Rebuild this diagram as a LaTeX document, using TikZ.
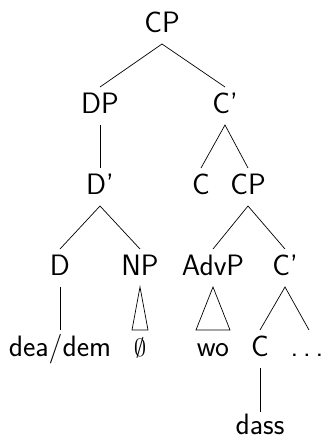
\documentclass[tikz,border=0pt]{standalone}
\begin{document}
\begin{tikzpicture}[x=1pt,y=-1pt,
  lbl/.style={anchor=base,inner sep=0pt,font=\fontsize{29.5}{35}\selectfont\sffamily},
  edge/.style={line width=0.7pt,line join=miter}]
\useasboundingbox (0,0) rectangle (324,439);
% nodes
\node[lbl] (cp)   at (162,32)  {CP};
\node[lbl] (dp)   at (100,113) {DP};
\node[lbl] (cb)   at (225,113) {C’};
\node[lbl] (db)   at (100,194) {D’};
\node[lbl] (c)    at (201,194) {C};
\node[lbl] (cp2)  at (248,194) {CP};
\node[lbl] (d)    at (60,275)  {D};
\node[lbl] (np)   at (140,275) {NP};
\node[lbl] (advp) at (213,275) {AdvP};
\node[lbl] (cb2)  at (285,275) {C’};
\node[lbl] (dea)  at (60,356)  {dea/dem};
\node[lbl] (empty) at (140,356) {$\emptyset$};
\node[lbl] (wo)   at (213,356) {wo};
\node[lbl] (c2)   at (260,356) {C};
\node[lbl] (dots) at (307,356) {.\kern0.16em.\kern0.16em.};
\node[lbl] (dass) at (260,434) {dass};
% edges
\draw[edge] ([yshift=26pt]dp.base) -- ([yshift=-12pt]cp.base) -- ([yshift=26pt]cb.base);
\draw[edge] ([yshift=-12pt]dp.base) -- ([yshift=26pt]db.base);
\draw[edge] ([yshift=26pt]c.base) -- ([yshift=-12pt]cb.base) -- ([yshift=26pt]cp2.base);
\draw[edge] ([yshift=26pt]d.base) -- ([yshift=-12pt]db.base) -- ([yshift=26pt]np.base);
\draw[edge] ([yshift=26pt]advp.base) -- ([yshift=-12pt]cp2.base) -- ([yshift=26pt]cb2.base);
\draw[edge] ([yshift=-12pt]d.base) -- ([yshift=26pt]dea.base);
\draw[edge] ([yshift=-12pt]np.base) -- ([shift={(-8pt,26pt)}]empty.base) -- ([shift={(8pt,26pt)}]empty.base) -- cycle;
\draw[edge] ([yshift=-12pt]advp.base) -- ([shift={(-17pt,26pt)}]wo.base) -- ([shift={(17pt,26pt)}]wo.base) -- cycle;
\draw[edge] ([yshift=26pt]c2.base) -- ([yshift=-12pt]cb2.base) -- ([shift={(2pt,26pt)}]dots.base);
\draw[edge] ([yshift=-12pt]c2.base) -- ([yshift=22pt]dass.base);
\end{tikzpicture}
\end{document}
